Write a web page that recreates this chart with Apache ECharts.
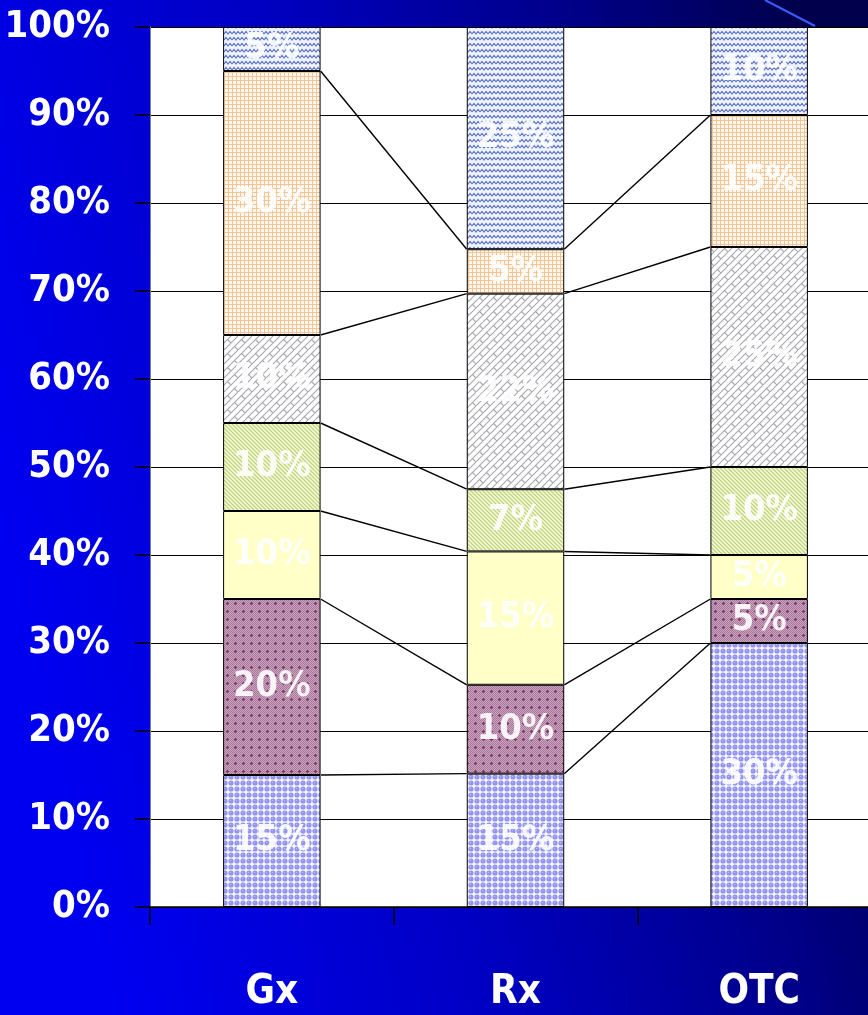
<!DOCTYPE html>
<html>
<head>
<meta charset="utf-8">
<script src="https://cdn.jsdelivr.net/npm/echarts@6/dist/echarts.min.js"></script>
<style>
  html, body { margin: 0; padding: 0; }
  #chart { width: 868px; height: 1015px; }
</style>
</head>
<body>
<div id="chart"></div>
<script>
// categories and segment values (bottom to top), in percent as labelled
const categorias = ['Gx', 'Rx', 'OTC'];
const seg1 = [15, 15, 30];
const seg2 = [20, 10, 5];
const seg3 = [10, 15, 5];
const seg4 = [10, 7, 10];
const seg5 = [10, 22, 25];
const seg6 = [30, 5, 15];
const seg7 = [5, 25, 10];
const yTicks = [0, 10, 20, 30, 40, 50, 60, 70, 80, 90, 100];

const segmentos = [seg1, seg2, seg3, seg4, seg5, seg6, seg7];
const fuente = 'DejaVu Sans Condensed, DejaVu Sans, sans-serif';

// --- pattern tiles ---
function tile(w, h, draw) {
    const c = document.createElement('canvas');
    c.width = w; c.height = h;
    const ctx = c.getContext('2d');
    draw(ctx, w, h);
    return { image: c, repeat: 'repeat' };
}

const patCirculos = tile(6, 6, (ctx) => {
    ctx.fillStyle = '#f6f6ff'; ctx.fillRect(0, 0, 6, 6);
    ctx.fillStyle = '#9494ee';
    ctx.beginPath(); ctx.arc(3, 3, 2.6, 0, Math.PI * 2); ctx.fill();
    ctx.fillStyle = '#c4c4fa'; ctx.fillRect(2, 2, 1, 1);
});
const patGranate = tile(8, 8, (ctx) => {
    ctx.fillStyle = '#cfa6c4'; ctx.fillRect(0, 0, 8, 8);
    ctx.fillStyle = '#a47494';
    for (let x = 0; x < 8; x++) for (let y = 0; y < 8; y++) if ((x + y) % 2 === 0) ctx.fillRect(x, y, 1, 1);
    ctx.fillStyle = '#7a3a6a';
    ctx.fillRect(3, 2, 1, 3); ctx.fillRect(2, 3, 3, 1);
});
const patAmarillo = '#ffffc8';
const patVerde = tile(4, 4, (ctx) => {
    ctx.fillStyle = '#f8fbe0'; ctx.fillRect(0, 0, 4, 4);
    ctx.strokeStyle = '#c0d27a'; ctx.lineWidth = 1.3;
    ctx.beginPath(); ctx.moveTo(-1, -1); ctx.lineTo(5, 5); ctx.moveTo(-1, 3); ctx.lineTo(1, 5); ctx.moveTo(3, -1); ctx.lineTo(5, 1); ctx.stroke();
});
const patLadrillo = tile(14, 14, (ctx) => {
    ctx.fillStyle = '#ffffff'; ctx.fillRect(0, 0, 14, 14);
    ctx.strokeStyle = '#a8a8ae'; ctx.lineWidth = 1.1;
    ctx.beginPath();
    ctx.moveTo(0, 14); ctx.lineTo(14, 0);
    ctx.moveTo(-7, 14); ctx.lineTo(7, 0);
    ctx.moveTo(7, 14); ctx.lineTo(21, 0);
    ctx.moveTo(3.5, 3.5); ctx.lineTo(7, 7);
    ctx.moveTo(10.5, 10.5); ctx.lineTo(14, 14);
    ctx.moveTo(-3.5, 10.5); ctx.lineTo(0, 14);
    ctx.moveTo(10.5, -3.5); ctx.lineTo(14, 0);
    ctx.stroke();
});
const patMelocoton = tile(4, 4, (ctx) => {
    ctx.fillStyle = '#fff7ec'; ctx.fillRect(0, 0, 4, 4);
    ctx.fillStyle = '#f2c496';
    ctx.fillRect(0, 0, 4, 1); ctx.fillRect(0, 0, 1, 4);
});
const patOndas = tile(8, 6, (ctx) => {
    ctx.fillStyle = '#eef3ff'; ctx.fillRect(0, 0, 8, 6);
    ctx.strokeStyle = '#6478c2'; ctx.lineWidth = 1.2;
    ctx.beginPath(); ctx.moveTo(0, 4); ctx.lineTo(2, 1.5); ctx.lineTo(4, 4); ctx.lineTo(6, 1.5); ctx.lineTo(8, 4); ctx.stroke();
});
const colores = [patCirculos, patGranate, patAmarillo, patVerde, patLadrillo, patMelocoton, patOndas];

// 100% stacked: normalise each category
const totales = categorias.map((c, i) => segmentos.reduce((s, seg) => s + seg[i], 0));
const normal = segmentos.map(seg => seg.map((v, i) => v / totales[i] * 100));

const series = normal.map((seg, k) => ({
    type: 'bar',
    stack: 'total',
    barWidth: '40%',
    data: seg.map((v, i) => ({ value: v, raw: segmentos[k][i] })),
    itemStyle: { color: colores[k], borderColor: '#000', borderWidth: 1 },
    label: {
        show: true,
        position: 'inside',
        formatter: p => p.data.raw + '%',
        color: 'rgba(255,255,255,0.9)',
        fontSize: 36,
        fontWeight: 'bold',
        fontFamily: fuente
    },
    emphasis: { disabled: true }
}));

// series lines between bar edges
let acumulado = [0, 0, 0];
for (let k = 0; k < normal.length - 1; k++) {
    acumulado = acumulado.map((a, i) => a + normal[k][i]);
    for (let j = 0; j < 2; j++) {
        series.push({
            type: 'line',
            xAxisIndex: 1,
            symbol: 'none',
            silent: true,
            lineStyle: { color: '#000', width: 1.4 },
            data: [[j + 0.7, acumulado[j]], [j + 1.3, acumulado[j + 1]]],
            z: 3
        });
    }
}

const chart = echarts.init(document.getElementById('chart'));
chart.setOption({
    animation: false,
    backgroundColor: {
        type: 'linear', x: 0, y: 0.5, x2: 1, y2: 0.3,
        colorStops: [
            { offset: 0, color: '#0000f0' },
            { offset: 0.4, color: '#0000c4' },
            { offset: 0.75, color: '#000088' },
            { offset: 1, color: '#00004c' }
        ]
    },
    grid: {
        left: 150, right: -13, top: 27, bottom: 108,
        outerBoundsMode: 'none',
        show: true, backgroundColor: '#ffffff', borderWidth: 0
    },
    xAxis: [
        {
            type: 'category',
            data: categorias,
            axisLine: { lineStyle: { color: '#000', width: 1.5 } },
            axisTick: { show: true, length: 18, lineStyle: { color: '#000', width: 1.5 } },
            axisLabel: {
                color: '#fff', fontSize: 40, fontWeight: 'bold', margin: 66,
                fontFamily: fuente
            }
        },
        { type: 'value', min: 0, max: 3, show: false }
    ],
    yAxis: {
        type: 'value',
        min: yTicks[0],
        max: yTicks[yTicks.length - 1],
        interval: 10,
        axisLine: { show: true, lineStyle: { color: '#808080' } },
        axisTick: { show: true, length: 15, lineStyle: { color: '#000', width: 1.5 } },
        splitLine: { lineStyle: { color: '#000', width: 1 } },
        axisLabel: {
            formatter: '{value}%',
            color: '#fff', fontSize: 38, fontWeight: 'bold', margin: 40,
            fontFamily: fuente
        }
    },
    graphic: [{
        type: 'line',
        shape: { x1: 765, y1: 0, x2: 815, y2: 26 },
        style: { stroke: '#3a5cff', lineWidth: 2 },
        silent: true
    }],
    series: series
});
</script>
</body>
</html>
